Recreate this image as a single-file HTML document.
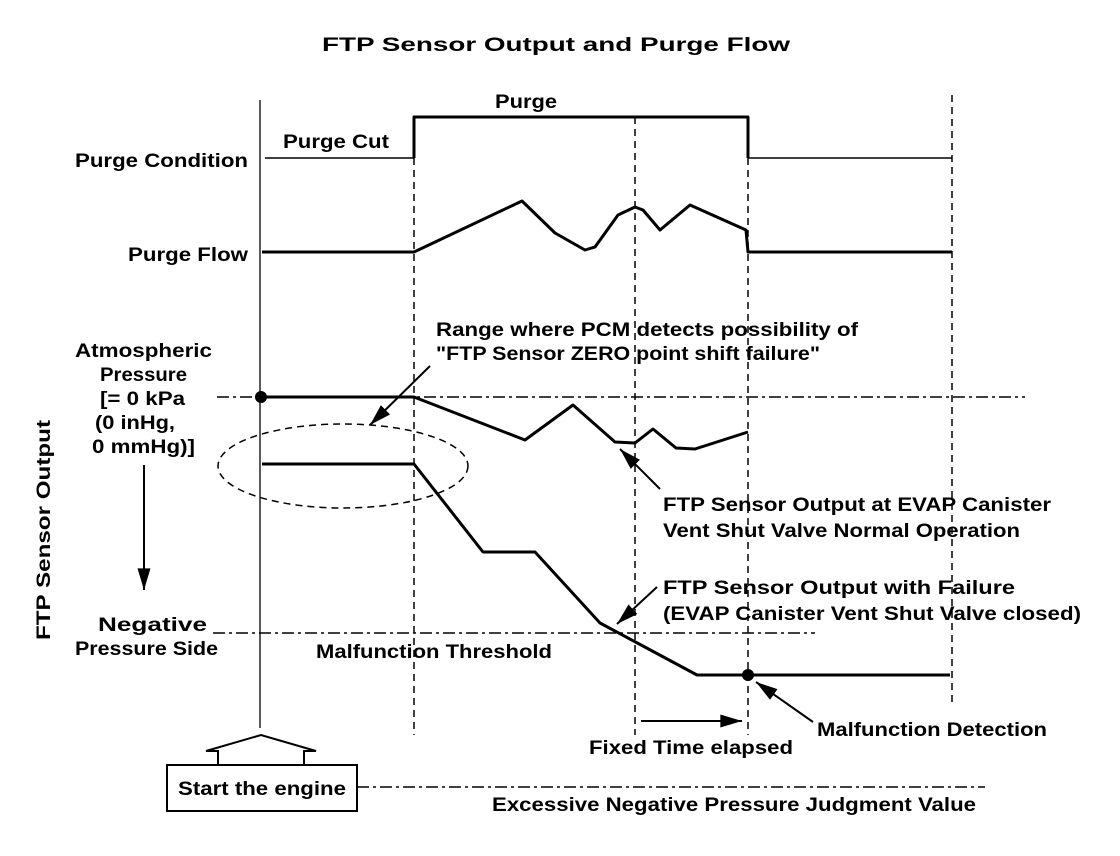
<!DOCTYPE html>
<html><head><style>body{margin:0;background:#fff}svg{display:block}text{font-family:"Liberation Sans",Arial,sans-serif;font-weight:bold;font-size:19px;fill:#000}</style></head>
<body>
<svg width="1120" height="856" viewBox="0 0 1120 856" xmlns="http://www.w3.org/2000/svg">
<defs>
<marker id="a2" viewBox="0 0 20 12" markerWidth="22" markerHeight="13" refX="20" refY="6" orient="auto" markerUnits="userSpaceOnUse"><path d="M0,0 L20,6 L0,12z" fill="#000"/></marker></defs>
<g lengthAdjust="spacingAndGlyphs">
<text x="322" y="51" font-size="22" textLength="468" lengthAdjust="spacingAndGlyphs">FTP Sensor Output and Purge Flow</text>
<text x="495" y="108" textLength="62" lengthAdjust="spacingAndGlyphs">Purge</text>
<text x="283" y="148" textLength="106" lengthAdjust="spacingAndGlyphs">Purge Cut</text>
<text x="75" y="167" textLength="173" lengthAdjust="spacingAndGlyphs">Purge Condition</text>
<text x="128" y="261" textLength="120" lengthAdjust="spacingAndGlyphs">Purge Flow</text>
<text x="75" y="357" textLength="137" lengthAdjust="spacingAndGlyphs">Atmospheric</text>
<text x="100" y="381" textLength="87" lengthAdjust="spacingAndGlyphs">Pressure</text>
<text x="100" y="405" textLength="85" lengthAdjust="spacingAndGlyphs">[= 0 kPa</text>
<text x="95" y="429" textLength="80" lengthAdjust="spacingAndGlyphs">(0 inHg,</text>
<text x="92" y="453" textLength="103" lengthAdjust="spacingAndGlyphs">0 mmHg)]</text>
<text x="98" y="631" textLength="109" lengthAdjust="spacingAndGlyphs">Negative</text>
<text x="75" y="655" textLength="143" lengthAdjust="spacingAndGlyphs">Pressure Side</text>
<text transform="translate(50,640) rotate(-90)" textLength="220" lengthAdjust="spacingAndGlyphs">FTP Sensor Output</text>
<text x="436" y="336" textLength="422" lengthAdjust="spacingAndGlyphs">Range where PCM detects possibility of</text>
<text x="436" y="360" textLength="384" lengthAdjust="spacingAndGlyphs">"FTP Sensor ZERO point shift failure"</text>
<text x="663" y="511" textLength="388" lengthAdjust="spacingAndGlyphs">FTP Sensor Output at EVAP Canister</text>
<text x="663" y="537" textLength="357" lengthAdjust="spacingAndGlyphs">Vent Shut Valve Normal Operation</text>
<text x="663" y="594" textLength="352" lengthAdjust="spacingAndGlyphs">FTP Sensor Output with Failure</text>
<text x="663" y="620" textLength="418" lengthAdjust="spacingAndGlyphs">(EVAP Canister Vent Shut Valve closed)</text>
<text x="316" y="658" textLength="236" lengthAdjust="spacingAndGlyphs">Malfunction Threshold</text>
<text x="817" y="736" textLength="230" lengthAdjust="spacingAndGlyphs">Malfunction Detection</text>
<text x="589" y="754" textLength="204" lengthAdjust="spacingAndGlyphs">Fixed Time elapsed</text>
<text x="492" y="811" textLength="484" lengthAdjust="spacingAndGlyphs">Excessive Negative Pressure Judgment Value</text>
</g>
<line x1="144" y1="465" x2="144" y2="590" stroke="#000" stroke-width="2" marker-end="url(#a2)"/>
<line x1="260" y1="100" x2="260" y2="728" stroke="#000" stroke-width="1.3"/>
<g stroke="#000" stroke-width="1.5" stroke-dasharray="7,5" fill="none">
<line x1="414" y1="158" x2="414" y2="735"/><line x1="635" y1="117" x2="635" y2="735"/><line x1="748" y1="158" x2="748" y2="735"/><line x1="952" y1="95" x2="952" y2="705"/>
<ellipse cx="343" cy="466" rx="125" ry="42"/>
</g>
<g stroke="#000" stroke-width="1.5" stroke-dasharray="12,4,3,4" fill="none">
<line x1="217" y1="397" x2="1025" y2="397"/><line x1="213" y1="633" x2="815" y2="633"/><line x1="357" y1="787" x2="985" y2="787"/>
</g>
<g stroke="#000" fill="none" stroke-width="1.5"><polyline points="265,158 414,158"/><polyline points="748,158 952,158"/></g>
<g stroke="#000" fill="none" stroke-width="3" stroke-linejoin="round">
<polyline points="414,158 414,117 748,117 748,158"/>
<polyline points="262,252 414,252 522,201 555,233 585,250 595,247 618,215 635,207 643,210 660,230 690,205 746,230 748,252 952,252"/>
<polyline points="262,397 414,397 525,440 573,405 615,442 635,443 653,429 676,448 695,449 748,432"/>
<polyline points="262,464 414,464 483,552 535,552 600,623 697,675 950,675"/>
</g>
<circle cx="261" cy="397" r="6"/><circle cx="748" cy="675" r="6"/>
<g stroke="#000" stroke-width="2">
<line x1="430" y1="366" x2="370" y2="425" marker-end="url(#a2)"/>
<line x1="660" y1="489" x2="620" y2="449" marker-end="url(#a2)"/>
<line x1="657" y1="587" x2="617" y2="624" marker-end="url(#a2)"/>
<line x1="813" y1="722" x2="756" y2="682" marker-end="url(#a2)"/>
<line x1="641" y1="721" x2="742" y2="721" marker-end="url(#a2)"/>
</g>
<path d="M218,765 V751 H206 L261,735 L316,751 H304 V765" fill="none" stroke="#000" stroke-width="2"/>
<rect x="167" y="765" width="190" height="46" fill="#fff" stroke="#000" stroke-width="2"/>
<text x="178" y="795" textLength="168" lengthAdjust="spacingAndGlyphs">Start the engine</text>
</svg>
</body></html>
